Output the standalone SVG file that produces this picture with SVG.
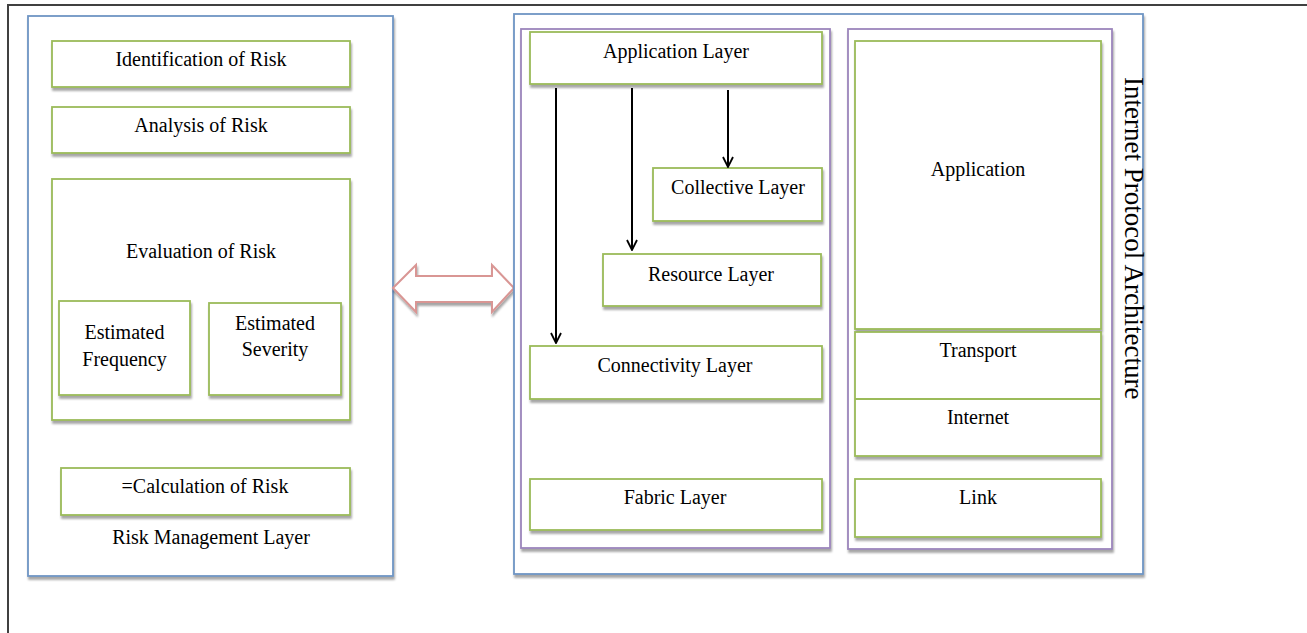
<svg xmlns="http://www.w3.org/2000/svg" width="1307" height="633" viewBox="0 0 1307 633">
<defs>
<filter id="sh" x="-10%" y="-10%" width="130%" height="130%">
<feDropShadow dx="1" dy="3" stdDeviation="1" flood-color="#000" flood-opacity="0.35"/>
</filter>
<marker id="ah" viewBox="0 0 12 12" refX="11" refY="6" markerWidth="12" markerHeight="12" markerUnits="userSpaceOnUse" orient="auto">
<path d="M1,1 L11,6 L1,11" fill="none" stroke="#000" stroke-width="1.8"/>
</marker>
</defs>
<style>
.t{font-family:"Liberation Serif","Times New Roman",serif;font-size:20px;fill:#000;text-anchor:middle}
.g{fill:#fff;stroke:#9bbb59;stroke-width:1.8}
.b{fill:#fff;stroke:#6f95c4;stroke-width:1.8}
.p{fill:#fff;stroke:#9c86bc;stroke-width:1.8}
.c{stroke:#000;stroke-width:2;fill:none}
</style>
<rect width="1307" height="633" fill="#fff"/>
<g id="frame" fill="none" stroke="#404040" stroke-width="2">
<path d="M8,633 V5 H1307"/>
</g>

<g id="risk-management-layer">
<rect class="b" x="28" y="16" width="365" height="560" filter="url(#sh)"/>
<text class="t" x="211" y="544">Risk Management Layer</text>
</g>
<g id="identification">
<rect class="g" x="52" y="41" width="298" height="46" filter="url(#sh)"/>
<text class="t" x="201" y="66">Identification of Risk</text>
</g>
<g id="analysis">
<rect class="g" x="52" y="107" width="298" height="46" filter="url(#sh)"/>
<text class="t" x="201" y="132">Analysis of Risk</text>
</g>
<g id="evaluation">
<rect class="g" x="52" y="179" width="298" height="241" filter="url(#sh)"/>
<text class="t" x="201" y="258">Evaluation of Risk</text>
</g>
<g id="est-frequency">
<rect class="g" x="59" y="301" width="131" height="94" filter="url(#sh)"/>
<text class="t" x="124.5" y="339">Estimated</text>
<text class="t" x="124.5" y="366">Frequency</text>
</g>
<g id="est-severity">
<rect class="g" x="209" y="303" width="132" height="92" filter="url(#sh)"/>
<text class="t" x="275" y="330">Estimated</text>
<text class="t" x="275" y="356">Severity</text>
</g>
<g id="calculation">
<rect class="g" x="61" y="468" width="289" height="47" filter="url(#sh)"/>
<text class="t" x="205" y="493">=Calculation of Risk</text>
</g>

<g id="double-arrow">
<path d="M393,288 L416,265 L416,276 L492,276 L492,265 L514,288 L492,312 L492,302 L416,302 L416,312 Z" fill="#fff" stroke="#d99694" stroke-width="2" stroke-linejoin="miter" filter="url(#sh)"/>
</g>

<g id="internet-protocol-architecture">
<rect class="b" x="514" y="14" width="629" height="560" filter="url(#sh)"/>
<text transform="translate(1125,77) rotate(90)" font-family="Liberation Serif, Times New Roman, serif" font-size="27" fill="#000">Internet Protocol Architecture</text>
</g>
<g id="grid-stack">
<rect class="p" x="521" y="29" width="309" height="519" filter="url(#sh)"/>
</g>
<g id="application-layer">
<rect class="g" x="530" y="32" width="292" height="52" filter="url(#sh)"/>
<text class="t" x="676" y="58">Application Layer</text>
</g>
<g id="collective-layer">
<rect class="g" x="653" y="168" width="169" height="53" filter="url(#sh)"/>
<text class="t" x="738" y="194">Collective Layer</text>
</g>
<g id="resource-layer">
<rect class="g" x="603" y="254" width="218" height="52" filter="url(#sh)"/>
<text class="t" x="711" y="281">Resource Layer</text>
</g>
<g id="connectivity-layer">
<rect class="g" x="530" y="346" width="292" height="53" filter="url(#sh)"/>
<text class="t" x="675" y="372">Connectivity Layer</text>
</g>
<g id="fabric-layer">
<rect class="g" x="530" y="479" width="292" height="51" filter="url(#sh)"/>
<text class="t" x="675" y="504">Fabric Layer</text>
</g>

<g id="ip-stack">
<rect class="p" x="848" y="29" width="264" height="520" filter="url(#sh)"/>
</g>
<g id="application">
<rect class="g" x="855" y="41" width="246" height="288" filter="url(#sh)"/>
<text class="t" x="978" y="176">Application</text>
</g>
<g id="transport-internet">
<rect class="g" x="855" y="332" width="246" height="124" filter="url(#sh)"/>
<line x1="855" y1="399" x2="1101" y2="399" stroke="#9bbb59" stroke-width="1.8"/>
<text class="t" x="978" y="357">Transport</text>
<text class="t" x="978" y="424">Internet</text>
</g>
<g id="link">
<rect class="g" x="855" y="479" width="246" height="58" filter="url(#sh)"/>
<text class="t" x="978" y="504">Link</text>
</g>

<g id="connectors">
<line class="c" x1="556" y1="88" x2="556" y2="343" marker-end="url(#ah)"/>
<line class="c" x1="632" y1="88" x2="632" y2="250" marker-end="url(#ah)"/>
<line class="c" x1="728" y1="90" x2="728" y2="167" marker-end="url(#ah)"/>
</g>
</svg>
